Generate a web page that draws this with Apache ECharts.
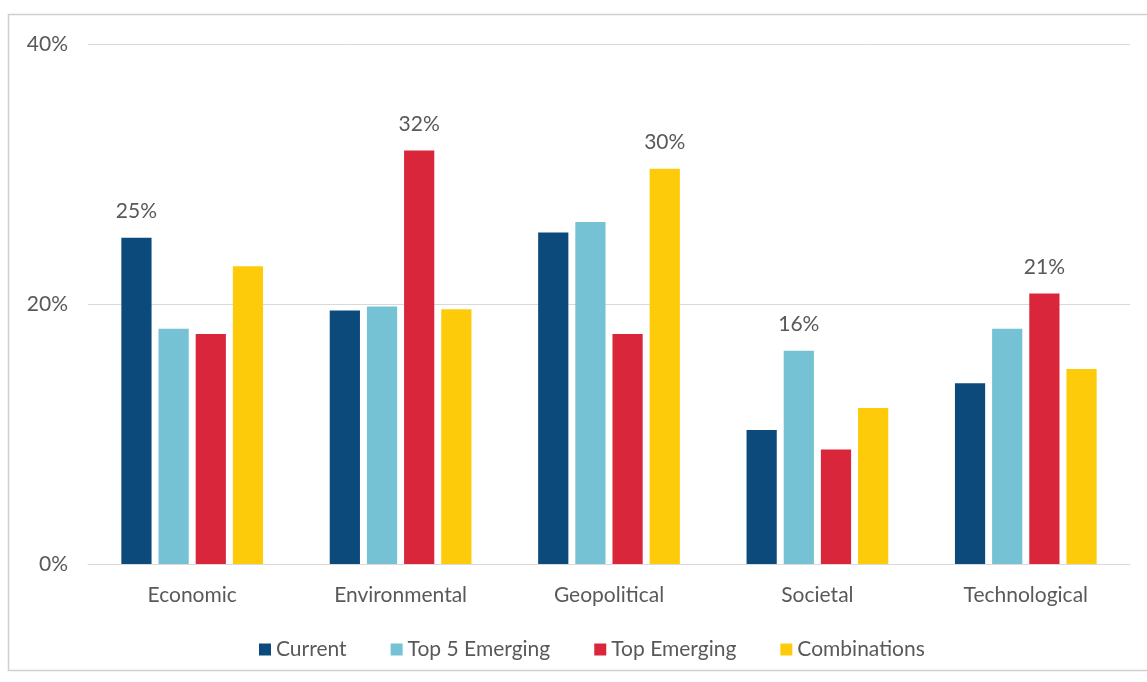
<!DOCTYPE html>
<html>
<head>
<meta charset="utf-8">
<script src="https://cdn.jsdelivr.net/npm/echarts@6/dist/echarts.min.js"></script>
<style>html,body{margin:0;padding:0;background:#fff}#c{width:1147px;height:682px}</style>
</head>
<body>
<div id="c"></div>
<script>
const categories = ['Economic', 'Environmental', 'Geopolitical', 'Societal', 'Technological'];
const seriesNames = ['Current', 'Top 5 Emerging', 'Top Emerging', 'Combinations'];
const current = [25.1, 19.5, 25.5, 10.3, 13.9];
const top5Emerging = [18.1, 19.8, 26.3, 16.4, 18.1];
const topEmerging = [17.7, 31.8, 17.7, 8.8, 20.8];
const combinations = [22.9, 19.6, 30.4, 12.0, 15.0];
// which bars carry a value label: [seriesIndex, categoryIndex]
const labelled = [[0, 0], [2, 1], [3, 2], [1, 3], [2, 4]];
const yTicks = [0, 20, 40];
const colors = ['#0b4a7a', '#74c2d4', '#d9263a', '#fdcb0a'];

const allValues = [current, top5Emerging, topEmerging, combinations];
const font = 'Lato, "Open Sans", sans-serif';
const chart = echarts.init(document.getElementById('c'));
chart.setOption({
  animation: false,
  textStyle: { fontFamily: font },
  graphic: [{
    type: 'rect', shape: { x: 8.5, y: 14.5, width: 1150, height: 656 },
    style: { fill: 'none', stroke: '#d0d0d0', lineWidth: 1.5 }, silent: true
  }],
  grid: { left: 88, right: 17, top: 44, bottom: 118 },
  legend: {
    data: seriesNames, top: 634, left: 254, itemWidth: 12, itemHeight: 12, itemGap: 44,
    icon: 'rect', textStyle: { fontSize: 21, color: '#595959', fontFamily: font }
  },
  xAxis: {
    type: 'category', data: categories,
    axisLine: { lineStyle: { color: '#d9d9d9' } }, axisTick: { show: false },
    axisLabel: { fontSize: 21, color: '#595959', margin: 21, fontFamily: font }
  },
  yAxis: {
    type: 'value', min: yTicks[0], max: yTicks[yTicks.length - 1], interval: 20,
    axisLine: { show: false }, axisTick: { show: false },
    splitLine: { lineStyle: { color: '#d9d9d9', width: 1 } },
    axisLabel: { fontSize: 21, color: '#595959', margin: 20, formatter: v => v + '%', fontFamily: font }
  },
  series: allValues.map((vals, si) => ({
    name: seriesNames[si], type: 'bar', barGap: '23%', barCategoryGap: '32%',
    itemStyle: { color: colors[si] },
    data: vals.map((v, ci) => {
      const show = labelled.some(p => p[0] === si && p[1] === ci);
      return {
        value: v,
        label: { show: show, position: 'top', distance: 16, fontSize: 21, color: '#595959',
          fontFamily: font, formatter: p => Math.round(p.value) + '%' }
      };
    })
  }))
});
</script>
</body>
</html>
